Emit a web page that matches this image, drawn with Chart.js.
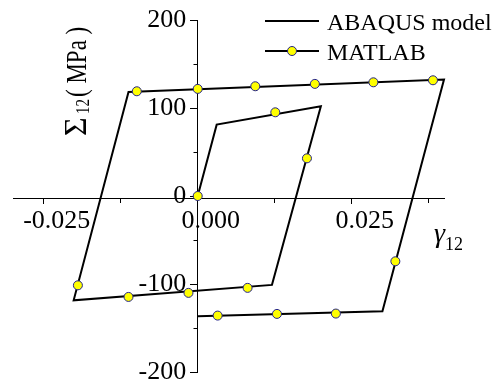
<!DOCTYPE html>
<html>
<head>
<meta charset="utf-8">
<script src="https://cdn.jsdelivr.net/npm/chart.js@4"></script>
<style>
  html, body { margin: 0; padding: 0; background: #fff; }
  #wrap { width: 496px; height: 383px; }
</style>
</head>
<body>
<div id="wrap"><canvas id="c" width="496" height="383"></canvas></div>
<script>
// Shear stress–strain hysteresis: ABAQUS model curve vs. MATLAB points
const abaqusStrain = [0, 0.00308, 0.0200, 0.01206, -0.02015, -0.01124, 0.0400, 0.0300, 0];
const abaqusStress = [0, 81.1, 101.9, -101.0, -118.5, 118.3, 132.3, -131.0, -136.7];

const matlabStrain = [0, 0.0126, 0.01774, 0.0081, -0.0015, -0.01124, -0.01946, -0.00989,
                      0, 0.00935, 0.01903, 0.02853, 0.03821, 0.0321, 0.02244, 0.01287, 0.00324];
const matlabStress = [0, 95.1, 42.8, -104.4, -110.1, -114.7, -101.5, 119.0,
                      121.7, 124.7, 127.4, 129.2, 131.5, -74.2, -133.6, -134.0, -135.9];

const xMajorTicks = [-0.025, 0, 0.025];
const xMajorLabels = ['-0.025', '0.000', '0.025'];
const xMinorTicks = [-0.0125, 0.0125, 0.0375];
const yMajorTicks = [-200, -100, 0, 100, 200];
const yMajorLabels = ['-200', '-100', '0', '100', '200'];
const yMinorTicks = [-150, -50, 50, 150];

const seriesNames = ['ABAQUS model', 'MATLAB'];

const SERIF = "'Liberation Serif', 'Times New Roman', serif";
const MARK_FILL = '#ffff00';
const MARK_EDGE = '#22228a';

const toPoints = (xs, ys) => xs.map((x, i) => ({ x: x, y: ys[i] }));

function setTicks(values) {
  return scale => { scale.ticks = values.map(v => ({ value: v })); };
}

function drawMarker(ctx, x, y) {
  ctx.beginPath();
  ctx.arc(x, y, 4.5, 0, Math.PI * 2);
  ctx.fillStyle = MARK_FILL;
  ctx.fill();
  ctx.lineWidth = 1;
  ctx.strokeStyle = MARK_EDGE;
  ctx.stroke();
}

// Stress tick labels (left of the tick marks), legend and axis titles
const annotations = {
  id: 'annotations',
  afterDraw(chart) {
    const ctx = chart.ctx;
    const xs = chart.scales.x, ys = chart.scales.y;
    const axisX = xs.getPixelForValue(0);
    ctx.save();
    ctx.fillStyle = '#000';

    // stress tick labels
    ctx.font = '26px ' + SERIF;
    ctx.textAlign = 'right';
    ctx.textBaseline = 'middle';
    yMajorTicks.forEach((v, i) => {
      ctx.fillText(yMajorLabels[i], axisX - 11.5, ys.getPixelForValue(v));
    });

    // legend
    ctx.strokeStyle = '#000';
    ctx.lineWidth = 2;
    ctx.beginPath(); ctx.moveTo(265, 21); ctx.lineTo(319, 21); ctx.stroke();
    ctx.beginPath(); ctx.moveTo(265, 51); ctx.lineTo(319, 51); ctx.stroke();
    drawMarker(ctx, 292, 51);
    ctx.fillStyle = '#000';
    ctx.font = '24px ' + SERIF;
    ctx.textAlign = 'left';
    ctx.textBaseline = 'alphabetic';
    ctx.fillText(seriesNames[0], 327, 30);
    ctx.fillText(seriesNames[1], 327, 60);

    // x-axis title: γ12
    ctx.font = 'italic 28px ' + SERIF;
    ctx.fillText('γ', 434, 242);
    ctx.font = '18px ' + SERIF;
    ctx.fillText('12', 445, 250);

    // y-axis title: Σ12( MPa ), rotated
    ctx.save();
    ctx.translate(86, 137);
    ctx.rotate(-Math.PI / 2);
    ctx.font = '32px ' + SERIF;
    ctx.fillText('Σ', 1, 0);
    ctx.scale(1, 1.25);
    let x = 23;
    ctx.font = '15px ' + SERIF;
    ctx.fillText('12', x, 2);
    x += ctx.measureText('12').width + 2;
    ctx.font = '23px ' + SERIF;
    ctx.fillText('( MPa )', x, 0);
    ctx.restore();

    ctx.restore();
  }
};

const axisBase = {
  type: 'linear',
  grid: { drawOnChartArea: false, drawTicks: true, color: '#000', lineWidth: 1 },
  border: { display: true, color: '#000', width: 1 }
};

new Chart(document.getElementById('c'), {
  type: 'scatter',
  data: {
    datasets: [
      {
        label: seriesNames[0],
        data: toPoints(abaqusStrain, abaqusStress),
        showLine: true,
        borderColor: '#000',
        borderWidth: 2,
        pointRadius: 0,
        fill: false,
        clip: false,
        order: 2
      },
      {
        label: seriesNames[1],
        data: toPoints(matlabStrain, matlabStress),
        showLine: false,
        pointRadius: 4.5,
        pointBackgroundColor: MARK_FILL,
        pointBorderColor: MARK_EDGE,
        pointBorderWidth: 1,
        clip: false,
        order: 1
      }
    ]
  },
  options: {
    responsive: false,
    devicePixelRatio: 1,
    animation: false,
    layout: { padding: { left: 13, right: 52, top: 20, bottom: 11 } },
    plugins: { legend: { display: false }, tooltip: { enabled: false } },
    scales: {
      x: Object.assign({}, axisBase, {
        min: -0.03, max: 0.04,
        position: { y: -3.3 },
        grid: Object.assign({}, axisBase.grid, { tickLength: 5 }),
        afterBuildTicks: setTicks(xMajorTicks),
        ticks: {
          autoSkip: false, maxRotation: 0, padding: 2, labelOffset: 13,
          color: '#000', font: { family: SERIF, size: 26 },
          callback: (v, i) => xMajorLabels[i]
        }
      }),
      x2: Object.assign({}, axisBase, {
        axis: 'x',
        min: -0.03, max: 0.04,
        position: { y: -3.3 },
        grid: Object.assign({}, axisBase.grid, { tickLength: 4 }),
        border: { display: false },
        afterBuildTicks: setTicks(xMinorTicks),
        ticks: { display: false, autoSkip: false }
      }),
      y: Object.assign({}, axisBase, {
        min: -200, max: 200,
        position: { x: 0 },
        grid: Object.assign({}, axisBase.grid, { tickLength: 7 }),
        afterBuildTicks: setTicks(yMajorTicks),
        ticks: { display: false, autoSkip: false }
      }),
      y2: Object.assign({}, axisBase, {
        axis: 'y',
        min: -200, max: 200,
        position: { x: 0 },
        grid: Object.assign({}, axisBase.grid, { tickLength: 4.5 }),
        border: { display: false },
        afterBuildTicks: setTicks(yMinorTicks),
        ticks: { display: false, autoSkip: false }
      })
    }
  },
  plugins: [annotations]
});
</script>
</body>
</html>
